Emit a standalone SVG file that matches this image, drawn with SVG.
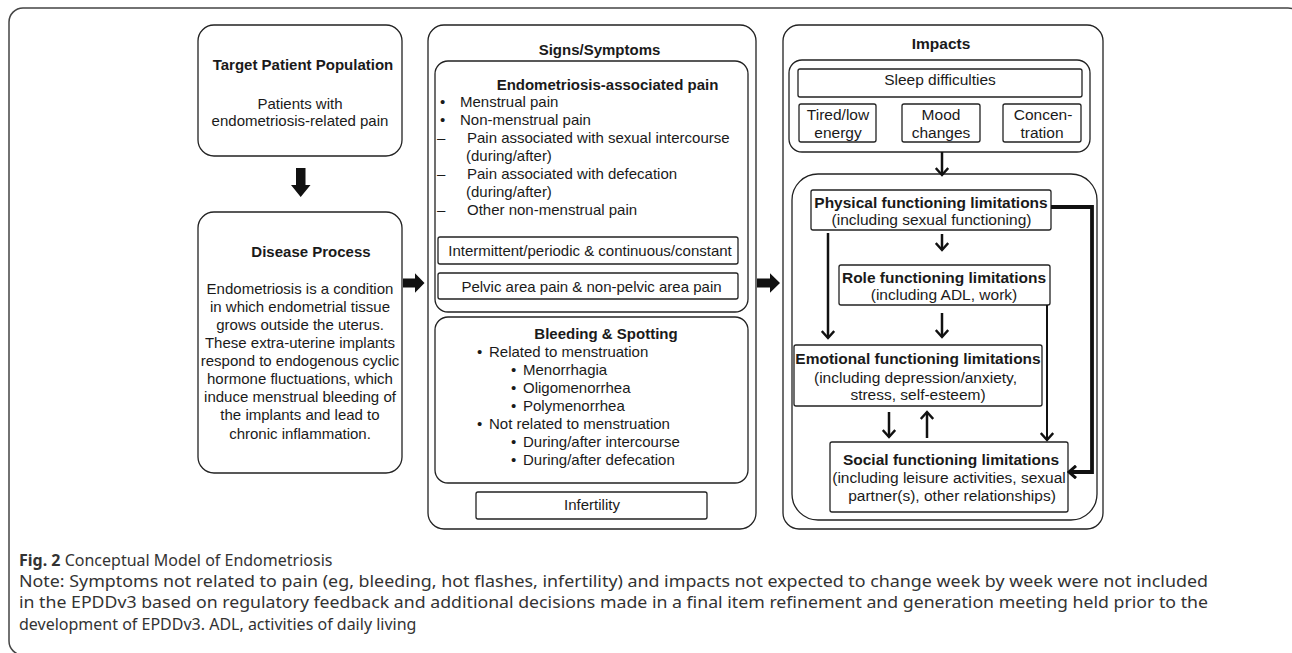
<svg xmlns="http://www.w3.org/2000/svg" width="1292" height="653" viewBox="0 0 1292 653">
<style>
.box{fill:#fff;stroke:#222;stroke-width:1.3}
.frame{fill:#fff;stroke:#444;stroke-width:1.5}
.t{font-family:"Liberation Sans",Arial,sans-serif;font-size:15px;fill:#1a1a1a}
.r{font-size:15.5px}
.b{font-weight:bold}
.m{text-anchor:middle}
.cap{font-family:"Noto Sans","Open Sans",sans-serif;font-size:16px;fill:#333}
.ln{fill:none;stroke:#111;stroke-width:2.5}
.thin{stroke-width:2}
.thick{stroke-width:3.8}
.blk{fill:#111}
</style>
<defs>
<marker id="ah" viewBox="0 0 10 14" refX="8" refY="7" markerWidth="10" markerHeight="14" markerUnits="userSpaceOnUse" orient="auto">
<path d="M1,0.8 L8,7 L1,13.2" fill="none" stroke="#111" stroke-width="2.4"/>
</marker>
<marker id="ahb" viewBox="0 0 10 14" refX="8" refY="7" markerWidth="10" markerHeight="14" markerUnits="userSpaceOnUse" orient="auto">
<path d="M1,0.8 L8,7 L1,13.2" fill="none" stroke="#111" stroke-width="3"/>
</marker>
</defs>

<g id="frame"><rect class="frame" x="9" y="8" width="1293" height="647" rx="14"/></g>

<g id="target">
<rect class="box" x="198" y="25" width="204" height="131" rx="16"/>
<text class="t b m" x="303" y="70">Target Patient Population</text>
<text class="t m" x="300" y="108.5">Patients with</text>
<text class="t m" x="300" y="126">endometriosis-related pain</text>
</g>

<g id="disease">
<rect class="box" x="198" y="212" width="204" height="261" rx="16"/>
<text class="t b m" x="311" y="257">Disease Process</text>
<text class="t m" x="300" y="294">Endometriosis is a condition</text>
<text class="t m" x="300" y="312">in which endometrial tissue</text>
<text class="t m" x="300" y="330">grows outside the uterus.</text>
<text class="t m" x="300" y="348">These extra-uterine implants</text>
<text class="t m" x="300" y="366">respond to endogenous cyclic</text>
<text class="t m" x="300" y="384">hormone fluctuations, which</text>
<text class="t m" x="300" y="402">induce menstrual bleeding of</text>
<text class="t m" x="300" y="420">the implants and lead to</text>
<text class="t m" x="300" y="438.5">chronic inflammation.</text>
</g>

<g id="signs">
<rect class="box" x="428" y="25" width="328" height="504" rx="16"/>
<text class="t b m" x="599.5" y="55">Signs/Symptoms</text>
</g>
<g id="pain">
<rect class="box" x="435" y="61" width="313" height="251" rx="13"/>
<text class="t b m" x="607.5" y="90">Endometriosis-associated pain</text>
<text class="t" x="440" y="106.5">•</text><text class="t" x="460" y="106.5">Menstrual pain</text>
<text class="t" x="440" y="124.5">•</text><text class="t" x="460" y="124.5">Non-menstrual pain</text>
<text class="t" x="437" y="143">–</text><text class="t" x="467" y="143">Pain associated with sexual intercourse</text>
<text class="t" x="466" y="161">(during/after)</text>
<text class="t" x="437" y="179">–</text><text class="t" x="467" y="179">Pain associated with defecation</text>
<text class="t" x="466" y="197">(during/after)</text>
<text class="t" x="437" y="215">–</text><text class="t" x="467" y="215">Other non-menstrual pain</text>
</g>
<g id="intermittent">
<rect class="box" x="438" y="237" width="300" height="27" rx="2"/>
<text class="t m" x="590" y="256">Intermittent/periodic &amp; continuous/constant</text>
</g>
<g id="pelvic">
<rect class="box" x="438" y="273" width="300" height="26" rx="2"/>
<text class="t m" x="591.5" y="292">Pelvic area pain &amp; non-pelvic area pain</text>
</g>
<g id="bleeding">
<rect class="box" x="435" y="317" width="313" height="166" rx="13"/>
<text class="t b m" x="606" y="339">Bleeding &amp; Spotting</text>
<text class="t" x="477" y="357">•</text><text class="t" x="489" y="357">Related to menstruation</text>
<text class="t" x="511" y="375">•</text><text class="t" x="523" y="375">Menorrhagia</text>
<text class="t" x="511" y="393">•</text><text class="t" x="523" y="393">Oligomenorrhea</text>
<text class="t" x="511" y="411">•</text><text class="t" x="523" y="411">Polymenorrhea</text>
<text class="t" x="477" y="429">•</text><text class="t" x="489" y="429">Not related to menstruation</text>
<text class="t" x="511" y="447">•</text><text class="t" x="523" y="447">During/after intercourse</text>
<text class="t" x="511" y="465">•</text><text class="t" x="523" y="465">During/after defecation</text>
</g>
<g id="infertility">
<rect class="box" x="476" y="492" width="231" height="27" rx="2"/>
<text class="t m" x="592" y="510">Infertility</text>
</g>

<g id="impacts">
<rect class="box" x="783" y="25" width="320" height="504" rx="16"/>
<text class="t r b m" x="941" y="49">Impacts</text>
</g>
<g id="sleep-group">
<rect class="box" x="789" y="60" width="301" height="92" rx="13"/>
</g>
<g id="sleep">
<rect class="box" x="798" y="69" width="284" height="28" rx="2"/>
<text class="t r m" x="940" y="85">Sleep difficulties</text>
</g>
<g id="tired">
<rect class="box" x="799" y="104" width="77" height="38" rx="2"/>
<text class="t r m" x="838" y="120">Tired/low</text>
<text class="t r m" x="838" y="138">energy</text>
</g>
<g id="mood">
<rect class="box" x="902" y="104" width="78" height="38" rx="2"/>
<text class="t r m" x="941" y="120">Mood</text>
<text class="t r m" x="941" y="138">changes</text>
</g>
<g id="concentration">
<rect class="box" x="1003" y="104" width="78" height="38" rx="2"/>
<text class="t r m" x="1043" y="120">Concen-</text>
<text class="t r m" x="1042" y="138">tration</text>
</g>
<g id="functioning">
<rect class="box" x="792" y="174" width="305" height="346" rx="26"/>
</g>
<g id="physical">
<rect class="box" x="811" y="190" width="240" height="40" rx="2"/>
<text class="t r b m" x="931" y="207.5">Physical functioning limitations</text>
<text class="t r m" x="931.5" y="225">(including sexual functioning)</text>
</g>
<g id="role">
<rect class="box" x="839" y="265" width="211" height="40" rx="2"/>
<text class="t r b m" x="944" y="282.5">Role functioning limitations</text>
<text class="t r m" x="944" y="300">(including ADL, work)</text>
</g>
<g id="emotional">
<rect class="box" x="794" y="345" width="248" height="61" rx="2"/>
<text class="t r b m" x="918" y="364">Emotional functioning limitations</text>
<text class="t r m" x="915.5" y="382.5">(including depression/anxiety,</text>
<text class="t r m" x="918" y="400">stress, self-esteem)</text>
</g>
<g id="social">
<rect class="box" x="830" y="442" width="238" height="70" rx="2"/>
<text class="t r b m" x="951" y="465">Social functioning limitations</text>
<text class="t r m" x="949" y="482.5">(including leisure activities, sexual</text>
<text class="t r m" x="952" y="500.5">partner(s), other relationships)</text>
</g>

<g id="connectors">
<polygon class="blk" points="296,168 305.5,168 305.5,185 310.5,185 300.7,197 291,185 296,185"/>
<polygon class="blk" points="403,278.5 415,278.5 415,273.3 424.5,283 415,292.7 415,287.5 403,287.5"/>
<polygon class="blk" points="757,278.5 770,278.5 770,273.3 780,283 770,292.7 770,287.5 757,287.5"/>
<line class="ln" x1="942" y1="152" x2="942" y2="175" marker-end="url(#ah)"/>
<line class="ln" x1="942" y1="234" x2="942" y2="250" marker-end="url(#ah)"/>
<line class="ln" x1="942" y1="313" x2="942" y2="337" marker-end="url(#ah)"/>
<line class="ln" x1="828" y1="233" x2="828" y2="338" marker-end="url(#ah)"/>
<line class="ln thin" x1="1047" y1="305" x2="1047" y2="440" marker-end="url(#ah)"/>
<line class="ln" x1="889" y1="412" x2="889" y2="437" marker-end="url(#ah)"/>
<line class="ln" x1="927" y1="438" x2="927" y2="412" marker-end="url(#ah)"/>
<polyline class="ln thick" points="1051,207 1092,207 1092,472 1069,472" marker-end="url(#ahb)"/>
</g>

<g id="caption">
<text class="cap" x="19" y="566"><tspan font-weight="bold">Fig. 2</tspan> Conceptual Model of Endometriosis</text>
<text class="cap" x="19" y="587" textLength="1189" lengthAdjust="spacingAndGlyphs">Note: Symptoms not related to pain (eg, bleeding, hot flashes, infertility) and impacts not expected to change week by week were not included</text>
<text class="cap" x="19" y="608" textLength="1189" lengthAdjust="spacingAndGlyphs">in the EPDDv3 based on regulatory feedback and additional decisions made in a final item refinement and generation meeting held prior to the</text>
<text class="cap" x="19" y="630">development of EPDDv3. ADL, activities of daily living</text>
</g>
</svg>
